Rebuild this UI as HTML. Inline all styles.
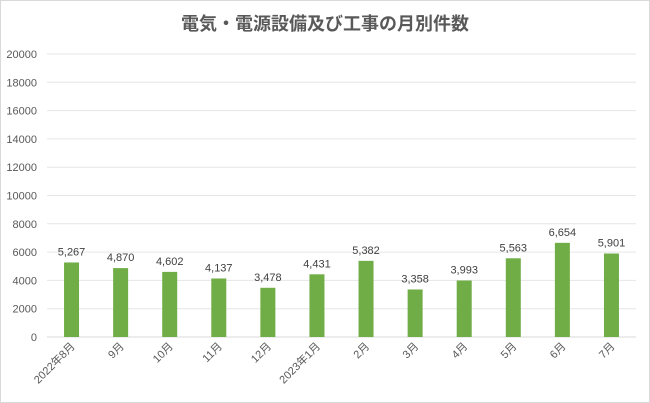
<!DOCTYPE html>
<html><head><meta charset="utf-8"><style>
body{margin:0;background:#fff}
svg{display:block;font-family:"Liberation Sans","Noto Sans CJK JP",sans-serif}
</style></head><body>
<svg id="c" width="650" height="403">
<rect x="0.5" y="0.5" width="649" height="402" fill="#fff" stroke="#d9d9d9"/>
<text x="325" y="30" text-anchor="middle" font-size="18" font-weight="bold" fill="#595959">電気・電源設備及び工事の月別件数</text>
<g id="grid"></g><g id="bars"></g><g id="labels"></g>
</svg>
<script>
const categories=["2022年8月","9月","10月","11月","12月","2023年1月","2月","3月","4月","5月","6月","7月"];
const values=[5267,4870,4602,4137,3478,4431,5382,3358,3993,5563,6654,5901];
const valueLabels=["5,267","4,870","4,602","4,137","3,478","4,431","5,382","3,358","3,993","5,563","6,654","5,901"];
const yTicks=[0,2000,4000,6000,8000,10000,12000,14000,16000,18000,20000];
const NS="http://www.w3.org/2000/svg";
const pLeft=47,pRight=636,pTop=54,pBottom=337,yMax=20000;
const step=(pRight-pLeft)/categories.length;
const yS=v=>pBottom-(v/yMax)*(pBottom-pTop);
const xS=i=>pLeft+step*(i+0.5);
function mk(t,a,p){const e=document.createElementNS(NS,t);for(const k in a)e.setAttribute(k,a[k]);p.appendChild(e);return e;}
const g=document.getElementById('grid'),b=document.getElementById('bars'),l=document.getElementById('labels');
yTicks.forEach(v=>{
 const ln=mk('line',{x1:pLeft,x2:pRight,y1:yS(v),y2:yS(v),stroke:v===0?'#d9d9d9':'#e6e6e6','stroke-width':1},g);
 
 
 const t=mk('text',{x:37,y:yS(v)+4,'text-anchor':'end','font-size':11,fill:'#595959'},g);
 t.textContent=v;
 
 
});
values.forEach((v,i)=>{
 const r=mk('rect',{x:xS(i)-7.5,y:yS(v),width:15,height:pBottom-yS(v),fill:'#70ad47'},b);
 
 
 const t=mk('text',{x:xS(i),y:yS(v)-7,'text-anchor':'middle','font-size':11,fill:'#404040'},l);
 t.textContent=valueLabels[i];
 
 
 const c=mk('text',{x:0,y:0,'text-anchor':'end','font-size':11,fill:'#595959',transform:`translate(${xS(i)+4},${pBottom+10}) rotate(-45)`},l);
 c.textContent=categories[i];
 
 
});
</script>
</body></html>
